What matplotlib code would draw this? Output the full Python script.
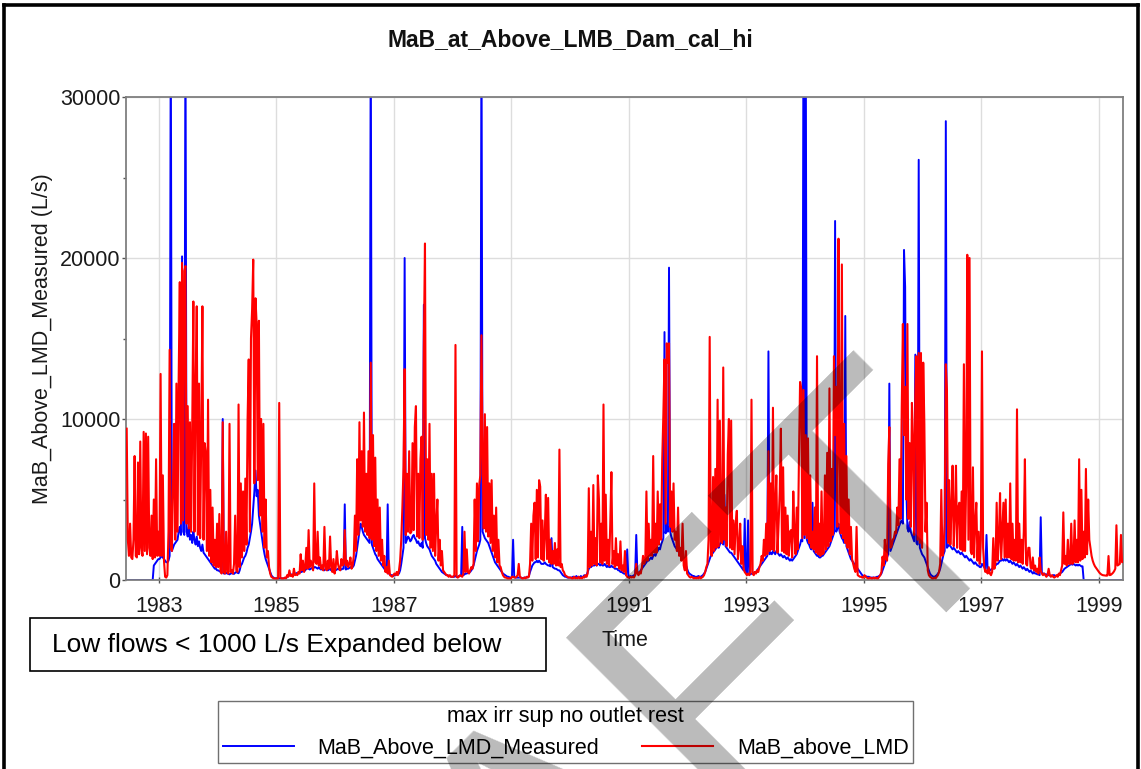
import numpy as np
import matplotlib
matplotlib.use("Agg")
import matplotlib.pyplot as plt
from matplotlib.patches import Rectangle
from matplotlib.lines import Line2D

plt.rcParams['font.family'] = ['Liberation Sans', 'DejaVu Sans']

# ---------------- data: weekly flows (L/s) ----------------
start_week = {1982: 23}

red_1982 = [9400, 2500, 1500, 3500, 1400, 1300, 2500, 7700, 1500, 1400, 7300, 1600, 8600, 2000, 1500,
            9200, 1800, 9100, 1600, 8900, 2000, 1500, 4000, 1300, 5000, 1400, 7500, 1500, 3000]
blue_1982 = [0, 0, 0, 0, 0, 0, 0, 0, 0, 0, 0, 0, 0, 0, 0, 0, 0, 0, 0, 0, 0, 0, 0, 0,
             900, 1000, 1100, 1200, 1300]

red_1983 = [1500, 12800, 1500, 6500, 1200, 200, 150, 300, 3000, 14300,
            2000, 1800, 6000, 9700, 2500, 12200, 3000, 12500, 18500, 3500,
            19700, 3700, 19200, 19500, 3500, 10800, 3200, 9800, 3000, 9500,
            17300, 3000, 11800, 17000, 2800, 12200, 2600, 9000, 17000, 2500,
            8500, 7900, 1800, 11200, 1500, 5600, 1100, 4500, 900, 2500,
            800, 3500]
blue_1983 = [1300, 1400, 1500, 1400, 1300, 1200, 1100, 1100, 1200, 1500,
             35000, 1800, 2000, 2200, 2300, 2400, 2500, 3000, 3300, 2800,
             20100, 3000, 2800, 35000, 3000, 2700, 3300, 2500, 2800, 2300,
             3000, 2500, 2200, 2700, 2100, 2400, 2000, 1800, 2200, 1700,
             1600, 1500, 1400, 1300, 1200, 1100, 1000, 900, 800, 700,
             700, 600]

red_1984 = [800, 4100, 600, 400, 9800, 500, 400, 3000, 500, 400,
            9700, 500, 600, 400, 1000, 4000, 600, 500, 10900, 800,
            6000, 1400, 5500, 1800, 6300, 2200, 10000, 13700, 3000, 15000,
            16800, 19900, 6000, 17500, 15900, 6200, 16100, 4000, 10000, 3000,
            9700, 2000, 5000, 1400, 1800, 800, 400, 200, 150, 100,
            100, 100]
blue_1984 = [600, 550, 500, 450, 10000, 400, 400, 450, 400, 380,
             350, 400, 420, 400, 380, 450, 500, 450, 420, 600,
             900, 1000, 1200, 1400, 1500, 1700, 2000, 2200, 2600, 3000,
             3500, 4500, 5500, 6800, 5200, 5600, 4000, 3500, 3000, 2500,
             2000, 1600, 1300, 1100, 900, 700, 500, 300, 200, 150,
             100, 100]

red_1985 = [100, 100, 11000, 150, 100, 100, 100, 150, 100, 300,
            200, 600, 250, 300, 200, 700, 300, 350, 300, 500,
            400, 1600, 600, 1200, 500, 800, 2000, 700, 3100, 800,
            1200, 900, 600, 6000, 1100, 1000, 3000, 900, 1400, 700,
            900, 600, 3300, 800, 600, 1200, 700, 2700, 800, 500,
            1300, 400]
blue_1985 = [100, 100, 100, 100, 100, 100, 100, 100, 100, 200,
             250, 300, 300, 350, 300, 350, 400, 400, 450, 400,
             450, 500, 500, 600, 550, 600, 700, 800, 700, 650,
             700, 750, 700, 800, 800, 750, 700, 800, 700, 650,
             700, 650, 600, 700, 650, 600, 650, 700, 600, 650,
             600, 650]

red_1986 = [800, 1800, 1000, 700, 600, 1300, 900, 1000, 3100, 900,
            1200, 800, 1000, 1400, 700, 900, 1500, 4000, 1800, 7500,
            2800, 9800, 3700, 8000, 3300, 10400, 3000, 6600, 2800, 8000,
            2600, 13500, 2500, 9000, 2100, 7600, 1800, 5000, 1500, 4500,
            1200, 2500, 900, 1500, 500, 800, 400, 1200, 300, 250,
            200, 300]
blue_1986 = [600, 650, 700, 650, 700, 650, 700, 700, 4700, 650,
             700, 700, 750, 800, 750, 800, 900, 1200, 1500, 2000,
             2500, 3000, 3500, 3300, 3000, 2800, 2700, 2600, 2500, 2400,
             2300, 35000, 2200, 2000, 1800, 1600, 1500, 1300, 1200, 1100,
             1000, 900, 800, 700, 600, 500, 4700, 400, 350, 300,
             300, 250]

red_1987 = [400, 300, 500, 300, 600, 1200, 2500, 4500, 7000, 13100,
            2800, 6600, 3000, 8000, 2900, 3000, 8500, 3100, 9500, 10800,
            2700, 6600, 2600, 7500, 8900, 2500, 14500, 20900, 2800, 7500,
            2500, 9700, 2000, 6600, 1800, 6600, 1500, 3500, 5000, 1200,
            2500, 900, 1800, 600, 500, 400, 300, 300, 200, 300,
            200, 200]
blue_1987 = [300, 300, 350, 350, 400, 600, 1000, 1500, 2000, 20000,
             2300, 2500, 2700, 2600, 2400, 2500, 2700, 2800, 2600, 2500,
             2300, 2400, 2200, 2100, 2300, 2000, 17100, 2600, 2300, 2100,
             2000, 1900, 1700, 1500, 1400, 1300, 1200, 1000, 900, 800,
             700, 600, 500, 450, 400, 350, 300, 300, 250, 250,
             200, 200]

red_1988 = [200, 300, 14600, 200, 150, 200, 300, 250, 200, 400,
            3000, 500, 1900, 500, 400, 600, 800, 700, 1000, 5000,
            1800, 6000, 2400, 5900, 6500, 15200, 7700, 3200, 10300, 3000,
            9500, 2700, 6000, 2300, 6200, 1800, 4000, 1400, 4500, 1100,
            2500, 900, 800, 500, 300, 200, 150, 150, 100, 100,
            100, 100]
blue_1988 = [200, 200, 250, 200, 200, 250, 250, 300, 3300, 300,
             350, 400, 400, 450, 500, 500, 600, 700, 900, 1200,
             1500, 1800, 2000, 2200, 2500, 35000, 3000, 2800, 2600, 2500,
             2400, 2300, 2100, 1900, 1700, 1500, 1300, 1100, 1000, 900,
             800, 700, 600, 500, 400, 350, 300, 250, 200, 200,
             150, 150]

red_1989 = [200, 200, 150, 150, 200, 300, 1000, 200, 150, 100,
            100, 150, 100, 200, 150, 200, 1000, 3500, 1200, 4000,
            4800, 1300, 5600, 1400, 6200, 5800, 1300, 3700, 1200, 2800,
            5300, 1300, 5100, 1100, 2500, 1000, 1800, 1000, 2300, 900,
            1900, 900, 8100, 800, 1000, 600, 500, 300, 250, 200,
            150, 150]
blue_1989 = [200, 2500, 200, 150, 150, 150, 150, 150, 150, 120,
             120, 150, 150, 150, 200, 250, 500, 700, 900, 1000,
             1100, 1100, 1200, 1100, 1200, 1100, 1000, 1000, 1000, 1100,
             1000, 950, 900, 900, 850, 2600, 800, 750, 700, 700,
             650, 600, 600, 500, 400, 300, 250, 200, 200, 150,
             150, 150]

red_1990 = [150, 100, 100, 200, 100, 150, 100, 200, 100, 150,
            100, 200, 150, 300, 200, 400, 5700, 800, 3000, 900,
            5900, 1000, 2600, 900, 6500, 5000, 1100, 3500, 1000, 10900,
            1200, 5300, 1000, 2500, 900, 3500, 6700, 1000, 1800, 800,
            2600, 900, 1600, 700, 2400, 600, 900, 500, 1800, 300,
            200, 150]
blue_1990 = [150, 150, 200, 200, 150, 250, 150, 200, 150, 250,
             150, 200, 300, 200, 300, 500, 700, 800, 800, 900,
             900, 900, 1000, 900, 1000, 1000, 900, 1000, 900, 900,
             1000, 900, 800, 900, 800, 800, 900, 800, 800, 700,
             700, 700, 600, 600, 500, 500, 450, 400, 400, 300,
             1900, 250]

red_1991 = [150, 200, 150, 200, 150, 300, 1000, 400, 300, 500,
            400, 800, 1500, 1000, 1200, 5500, 1200, 3500, 1500, 2500,
            1500, 7700, 1700, 3500, 1700, 5500, 2200, 4700, 2500, 7500,
            10300, 13700, 3500, 14700, 13500, 14700, 3300, 5500, 3000, 6000,
            2500, 3000, 1800, 4500, 1500, 2000, 1200, 3500, 900, 600,
            1800, 400]
blue_1991 = [200, 250, 200, 250, 300, 300, 2800, 400, 450, 500,
             600, 700, 800, 900, 1000, 1100, 1200, 1200, 1300, 1400,
             1300, 1500, 1600, 1500, 1700, 1800, 2000, 1900, 2200, 2400,
             2600, 15400, 2900, 3500, 3000, 19400, 3000, 2700, 2500, 2300,
             2100, 2000, 1900, 1800, 1700, 1600, 1500, 1400, 1300, 1100,
             900, 700]

red_1992 = [300, 200, 150, 200, 150, 100, 150, 100, 150, 100,
            200, 100, 150, 200, 300, 500, 800, 1000, 2500, 15100,
            1600, 1500, 6400, 1800, 6900, 2000, 11200, 2100, 9900, 2400,
            2300, 13200, 2500, 4500, 2100, 7800, 10000, 2000, 9900, 1900,
            3700, 1600, 3500, 4300, 1300, 2000, 3500, 1000, 2100, 700,
            500, 400]
blue_1992 = [500, 400, 350, 300, 250, 250, 200, 200, 200, 250,
             200, 200, 250, 300, 400, 500, 700, 900, 1100, 1300,
             1500, 1600, 1700, 1800, 1900, 2000, 2100, 2000, 2200, 2400,
             2300, 2200, 5300, 2100, 2000, 1900, 1800, 1700, 1700, 1600,
             1500, 1400, 1300, 1200, 1100, 1000, 900, 800, 700, 600,
             3800, 500]

red_1993 = [300, 400, 300, 500, 11200, 400, 300, 500, 400, 600,
            500, 800, 1000, 1500, 1200, 2500, 1500, 3500, 1600, 8000,
            1800, 6000, 1900, 10700, 1800, 4500, 6500, 1700, 3500, 5500,
            9400, 1800, 7000, 1700, 4500, 1600, 4000, 1500, 3000, 3100,
            1400, 5500, 2900, 1600, 4500, 1900, 7500, 12300, 11900, 2600,
            11800, 2800]
blue_1993 = [400, 3700, 350, 350, 400, 400, 450, 500, 500, 600,
             700, 800, 900, 1000, 1100, 1200, 1300, 1400, 1500, 14200,
             1600, 1700, 1600, 1800, 1700, 1600, 1800, 1700, 1600, 1500,
             1600, 1500, 1400, 1500, 1400, 1300, 1400, 1300, 1200, 1300,
             1200, 1300, 1400, 1500, 1600, 1800, 2000, 2200, 2500, 2400,
             35000, 2600]

red_1994 = [9000, 2600, 8800, 2300, 6500, 2000, 3000, 1900, 4500, 1700,
            13900, 1600, 3500, 1500, 5500, 1600, 1700, 6500, 1900, 7900,
            2100, 11900, 2400, 6900, 2800, 13900, 9000, 12000, 3300, 21200,
            8000, 2900, 19600, 2600, 9700, 2300, 7700, 2000, 5000, 1600,
            3300, 1300, 1000, 700, 500, 3300, 300, 250, 200, 200,
            150, 150]
blue_1994 = [35000, 2500, 2300, 2200, 2000, 1900, 4800, 1800, 1700, 1600,
             1500, 1500, 1400, 1400, 1500, 1500, 1600, 1700, 1800, 1900,
             2000, 2100, 2300, 2500, 2700, 2900, 22300, 3000, 3200, 3500,
             3000, 2800, 2600, 2500, 2300, 16400, 2100, 1900, 1700, 1500,
             1300, 1200, 1100, 1000, 900, 800, 700, 600, 500, 400,
             300, 250]

red_1995 = [300, 200, 150, 100, 100, 150, 100, 100, 150, 100,
            150, 100, 100, 200, 300, 500, 1450, 900, 2500, 1300,
            1200, 7200, 9500, 2000, 2100, 2500, 2600, 3000, 2900, 4500,
            3400, 7500, 3800, 10800, 15900, 9000, 12000, 5000, 15900, 3800,
            8500, 3300, 11000, 8700, 2800, 11500, 13900, 2500, 14100, 2300,
            14100, 2000]
blue_1995 = [250, 250, 200, 200, 200, 150, 150, 150, 150, 150,
             150, 200, 200, 250, 300, 400, 600, 800, 1000, 1200,
             1400, 1600, 12200, 1800, 2000, 2200, 2400, 2600, 2800, 3000,
             3200, 3400, 3600, 3700, 3500, 20500, 18200, 5800, 3200, 3000,
             3600, 3000, 2800, 2600, 2400, 14000, 2300, 2200, 26100, 2000,
             1800, 1600]

red_1996 = [13500, 9700, 3000, 4800, 600, 300, 200, 150, 100, 100,
            150, 100, 200, 300, 500, 1000, 5600, 1500, 1800, 3500,
            13400, 11800, 2300, 6200, 2200, 4500, 7100, 2100, 4000, 7100,
            2000, 4500, 4800, 1900, 5500, 1800, 13400, 1800, 6000, 20200,
            2500, 20000, 1800, 1600, 7000, 1400, 3500, 4800, 1200, 3000,
            1000, 2500]
blue_1996 = [1500, 1400, 1200, 1000, 800, 600, 400, 300, 250, 200,
             200, 250, 300, 400, 500, 700, 1000, 1300, 1600, 1800,
             28500, 2000, 2100, 2200, 2100, 2000, 1900, 2000, 1900, 1800,
             1700, 1800, 1700, 1600, 1700, 1600, 1500, 1400, 1500, 1400,
             1300, 1200, 1300, 1200, 1100, 1000, 1100, 1000, 900, 900,
             800, 800]

red_1997 = [14200, 2000, 800, 500, 600, 400, 800, 400, 300, 500,
            2600, 700, 1100, 4800, 1200, 2500, 5400, 1300, 3000, 4800,
            1400, 5000, 1400, 3500, 1400, 6000, 1300, 3500, 1200, 2500,
            1200, 10600, 1100, 3500, 1100, 2500, 1000, 3000, 7500, 1000,
            900, 2000, 2000, 800, 700, 1400, 600, 900, 500, 700,
            400, 1400]
blue_1997 = [1000, 900, 800, 700, 2800, 600, 600, 600, 650, 700,
             700, 800, 900, 1000, 1000, 1100, 1200, 1200, 1300, 1200,
             1300, 1200, 1300, 1200, 1100, 1200, 1100, 1000, 1100, 1000,
             900, 1000, 900, 800, 900, 800, 700, 800, 700, 600,
             700, 600, 500, 600, 500, 400, 500, 400, 400, 350,
             350, 300]

red_1998 = [600, 400, 300, 400, 300, 200, 300, 700, 300, 200,
            300, 200, 150, 200, 300, 200, 400, 300, 600, 900,
            4200, 1000, 1500, 900, 2500, 1000, 1000, 3500, 1000, 1100,
            3700, 1100, 2500, 1100, 7500, 1200, 5600, 1300, 3000, 1400,
            6900, 1600, 5000, 2500, 2000, 1500, 1200, 1000, 850, 750,
            650, 550]
blue_1998 = [3900, 450, 400, 400, 350, 350, 300, 300, 300, 250,
             250, 300, 300, 250, 250, 300, 350, 400, 450, 500,
             600, 700, 750, 800, 850, 900, 950, 1000, 950, 1000,
             950, 900, 950, 900, 950, 900, 850, 850, 0, 0,
             0, 0, 0, 0, 0, 0, 0, 0, 0, 0,
             0, 0]

red_1999 = [450, 380, 330, 300, 290, 280, 270, 280, 1490, 300,
            320, 380, 450, 550, 700, 3400, 900, 950, 1000, 2800,
            1100, 1200]
blue_1999 = [0, 0, 0, 0, 0, 0, 0, 0, 0, 0, 0, 0, 0, 0, 0, 0, 0, 0, 0, 0, 0, 0]

years = list(range(1982, 2000))
red_years = [red_1982, red_1983, red_1984, red_1985, red_1986, red_1987, red_1988, red_1989, red_1990,
             red_1991, red_1992, red_1993, red_1994, red_1995, red_1996, red_1997, red_1998, red_1999]
blue_years = [blue_1982, blue_1983, blue_1984, blue_1985, blue_1986, blue_1987, blue_1988, blue_1989, blue_1990,
              blue_1991, blue_1992, blue_1993, blue_1994, blue_1995, blue_1996, blue_1997, blue_1998, blue_1999]

x_tick_years = [1983, 1985, 1987, 1989, 1991, 1993, 1995, 1997, 1999]
y_ticks = [0, 10000, 20000, 30000]

title = "MaB_at_Above_LMB_Dam_cal_hi"
y_label = "MaB_Above_LMD_Measured (L/s)"
x_label = "Time"
legend_title = "max irr sup no outlet rest"
label_blue = "MaB_Above_LMD_Measured"
label_red = "MaB_above_LMD"
note_text = "Low flows < 1000 L/s Expanded below"
watermark = "DRAFT"

# ---------------- time axis (decimal years, weekly samples) ----------------
t_parts, r_parts, b_parts = [], [], []
for y, r, b in zip(years, red_years, blue_years):
    w0 = start_week.get(y, 0)
    wk = np.arange(len(r)) + w0
    t_parts.append(y + (wk + 0.5) / 52.0)
    r_parts.append(np.asarray(r, float))
    b_parts.append(np.asarray(b, float))
t = np.concatenate(t_parts)
red = np.concatenate(r_parts)
blue = np.concatenate(b_parts)

# ---------------- figure ----------------
W, H = 1141, 769
fig = plt.figure(figsize=(W / 100, H / 100), dpi=100)
fig.patch.set_facecolor('white')

def fx(px):
    return px / W

def fy(py):
    return 1 - py / H

ax_l, ax_r, ax_t, ax_b = 126, 1123, 97, 580
ax = fig.add_axes([fx(ax_l), fy(ax_b), (ax_r - ax_l) / W, (ax_b - ax_t) / H])

lb, = ax.plot(t, blue, color='#0000ff', lw=1.4, zorder=2, label=label_blue)
lr, = ax.plot(t, red, color='#ff0000', lw=1.5, zorder=3, label=label_red)

ax.set_xlim(1982.44, 1999.41)
ax.set_ylim(0, 30000)
ax.set_xticks(x_tick_years)
ax.set_xticklabels([str(v) for v in x_tick_years])
ax.set_yticks(y_ticks)
ax.set_yticklabels([str(v) for v in y_ticks])
ax.set_yticks([5000, 15000, 25000], minor=True)

ax.grid(True, which='major', color='#dddddd', lw=1.0)
ax.set_axisbelow(True)
for s in ax.spines.values():
    s.set_color('#7f7f7f')
    s.set_linewidth(1.3)

ax.tick_params(axis='y', which='major', direction='out', length=3, width=1, color='#555555',
               labelsize=15.5, labelcolor='#1a1a1a', pad=0.8)
ax.tick_params(axis='y', which='minor', direction='out', length=2.5, width=1, color='#555555')
ax.tick_params(axis='x', which='major', direction='inout', length=5, width=1, color='#555555',
               labelsize=15.5, labelcolor='#1a1a1a', pad=9)

ax.set_ylabel(y_label, fontsize=15.5, color='#1a1a1a')
ax.yaxis.set_label_coords((53 - ax_l) / (ax_r - ax_l), 0.5)
ax.set_xlabel(x_label, fontsize=15.5, color='#1a1a1a')
ax.xaxis.set_label_coords(0.5, (ax_b - 630) / (ax_b - ax_t))

fig.text(fx(570), fy(40), title, fontsize=16.5, fontweight='bold', ha='center', va='center',
         color='#111111')

# note box
fig.add_artist(Rectangle((fx(30), fy(671)), (546 - 30) / W, (671 - 618) / H, transform=fig.transFigure,
                         facecolor='white', edgecolor='black', lw=1.2, zorder=4))
fig.text(fx(52), fy(645), note_text, fontsize=19, ha='left', va='center', color='black', zorder=5)

# legend
leg = fig.legend(handles=[lb, lr], labels=[label_blue, label_red], title=legend_title,
                 loc='upper left', bbox_to_anchor=(fx(218), fy(701)), bbox_transform=fig.transFigure,
                 ncol=2, frameon=True, fancybox=False, framealpha=1, edgecolor='#707070',
                 borderpad=0.22, handlelength=3.3, handletextpad=1.1, columnspacing=2.0,
                 fontsize=15.5, title_fontsize=15.5, borderaxespad=0, labelspacing=0.5)
leg.get_frame().set_linewidth(1.0)

# outer black frame
for (x0, y0, x1, y1) in [(4, 5, 4, 769), (4, 5, 1138, 5), (1138, 5, 1138, 769)]:
    fig.add_artist(Line2D([fx(x0), fx(x1)], [fy(y0), fy(y1)], transform=fig.transFigure,
                          color='black', lw=2.6, zorder=6))

# diagonal watermark
fig.text(fx(1028), fy(500), watermark, fontsize=262, rotation=45, rotation_mode='anchor',
         ha='right', va='baseline', color='black', alpha=0.27, zorder=10)

fig.savefig('out.png', dpi=100)
